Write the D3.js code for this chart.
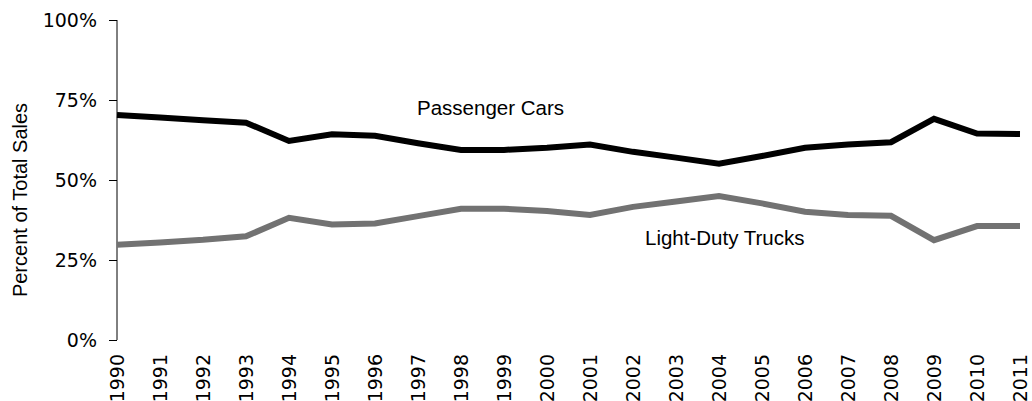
<!DOCTYPE html>
<html><head><meta charset="utf-8">
<script src="https://cdn.jsdelivr.net/npm/d3@7"></script>
<style>body{margin:0;background:#fff}svg{display:block}</style>
</head><body>
<svg id="c" width="1032" height="401"></svg>
<script>
const years = [1990,1991,1992,1993,1994,1995,1996,1997,1998,1999,2000,2001,2002,2003,2004,2005,2006,2007,2008,2009,2010,2011];
const passengerCars = [70.3,69.5,68.7,67.9,62.2,64.3,63.8,61.5,59.4,59.4,60.1,61.1,58.8,57.0,55.1,57.5,60.1,61.1,61.8,69.1,64.5,64.4];
const lightDutyTrucks = [29.8,30.5,31.3,32.4,38.2,36.1,36.4,38.7,41.0,41.0,40.3,39.1,41.6,43.3,45.0,42.7,40.1,39.1,38.8,31.2,35.6,35.6];
const yTicks = [0,25,50,75,100];
const seriesLabels = ["Passenger Cars","Light-Duty Trucks"];

const svg = d3.select("#c");
const x = d3.scaleLinear().domain([1990,2011]).range([117,1020]);
const y = d3.scaleLinear().domain([0,100]).range([340,20]);

// y axis
const yAxis = svg.append("g").attr("transform","translate(117,0)")
  .call(d3.axisLeft(y).tickValues(yTicks).tickSize(8).tickPadding(12).tickFormat(d=>d+"%"));
yAxis.select(".domain").attr("stroke","#000").attr("d","M0,20V340");
yAxis.selectAll(".tick line").attr("stroke","#000");
yAxis.selectAll("text").attr("font-family","DejaVu Sans").attr("font-size",19).attr("fill","#000");

// x labels
const xAxis = svg.append("g").attr("transform","translate(0,346)")
  .call(d3.axisBottom(x).tickValues(years).tickSize(0).tickPadding(0).tickFormat(d3.format("d")));
xAxis.select(".domain").remove();
xAxis.selectAll("text")
  .attr("font-family","DejaVu Sans").attr("font-size",19).attr("fill","#000")
  .attr("text-anchor","end").attr("dy","0.35em")
  .attr("transform","translate(0,8) rotate(-90)").attr("x",0).attr("y",0);

// y label
svg.append("text").attr("transform","translate(27,200) rotate(-90)")
  .attr("text-anchor","middle").attr("font-family","Liberation Sans, Arial").attr("font-size",20)
  .attr("fill","#000").text("Percent of Total Sales");

const line = d3.line().x((d,i)=>x(years[i])).y(d=>y(d));
svg.append("path").datum(lightDutyTrucks).attr("d",line).attr("fill","none")
  .attr("stroke","#727272").attr("stroke-width",6).attr("stroke-linejoin","miter");
svg.append("path").datum(passengerCars).attr("d",line).attr("fill","none")
  .attr("stroke","#000").attr("stroke-width",6).attr("stroke-linejoin","miter");

svg.append("text").attr("x",417).attr("y",115).attr("font-family","Liberation Sans, Arial")
  .attr("font-size",20.5).attr("fill","#000").text(seriesLabels[0]);
svg.append("text").attr("x",645).attr("y",245).attr("font-family","Liberation Sans, Arial")
  .attr("font-size",20.5).attr("fill","#000").text(seriesLabels[1]);
</script>
</body></html>
